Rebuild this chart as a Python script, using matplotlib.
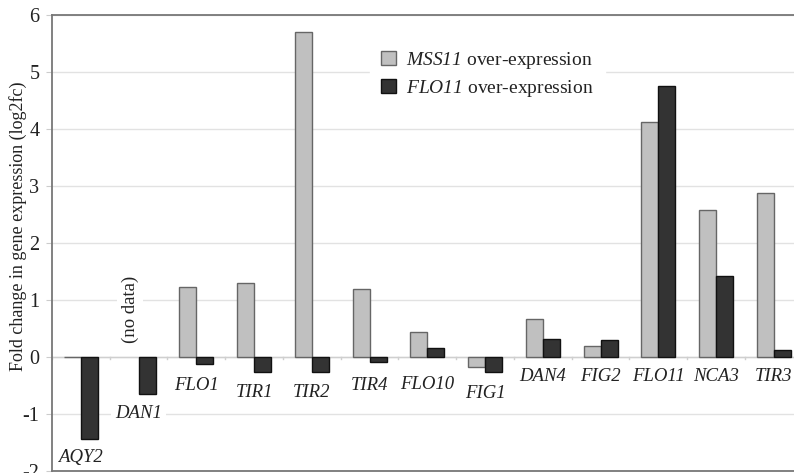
import matplotlib
matplotlib.use("Agg")
import matplotlib.pyplot as plt
import numpy as np
from matplotlib.patches import Patch

genes = ["AQY2", "DAN1", "FLO1", "TIR1", "TIR2", "TIR4", "FLO10",
         "FIG1", "DAN4", "FIG2", "FLO11", "NCA3", "TIR3"]
mss11 = [0.0, np.nan, 1.22, 1.29, 5.70, 1.19, 0.43,
         -0.175, 0.67, 0.18, 4.12, 2.57, 2.87]
flo11 = [-1.44, -0.66, -0.12, -0.26, -0.26, -0.10, 0.16,
         -0.26, 0.31, 0.30, 4.75, 1.41, 0.12]

# where the gene names sit (value axis), they were placed by hand in the original
label_y = [-1.76, -0.99, -0.50, -0.63, -0.63, -0.50, -0.48,
           -0.64, -0.35, -0.35, -0.35, -0.35, -0.35]

plt.rcParams["font.family"] = ["Liberation Serif", "DejaVu Serif"]
plt.rcParams["mathtext.fontset"] = "custom"
plt.rcParams["mathtext.rm"] = "Liberation Serif"
# mathit turns digits upright, so borrow the bf slot for italic gene names
plt.rcParams["mathtext.bf"] = "Liberation Serif:italic"
plt.rcParams["axes.unicode_minus"] = False

txt = "#222222"

fig = plt.figure(figsize=(7.94, 4.73), dpi=100)
ax = fig.add_axes([52 / 794, 2.3 / 473, 742 / 794, 456 / 473])

x = np.arange(len(genes))
w = 0.295
light = "#c0c0c0"
dark = "#333333"

ax.bar(x - w / 2, mss11, w, color=light, edgecolor="#666666", linewidth=1.0, zorder=3)
ax.bar(x + w / 2, flo11, w, color=dark, edgecolor="#111111", linewidth=1.0, zorder=3)

ax.set_xlim(-0.5, 12.35)
ax.set_ylim(-2, 6)
ax.set_yticks(range(-2, 7))
ax.yaxis.grid(True, color="#e2e2e2", linewidth=1.0, zorder=0)
ax.set_axisbelow(True)
ax.set_xticks([])

# category axis at zero with small boundary ticks
ax.axhline(0, color="#cfcfcf", linewidth=1.0, zorder=2)
for b in np.arange(-0.5, len(genes), 1.0):
    ax.plot([b, b], [0, -0.04], color="#cfcfcf", linewidth=1.0, zorder=2)

for xi, g, ly in zip(x, genes, label_y):
    ax.text(xi, ly, g, ha="center", va="center", style="italic", fontsize=13.5,
            color=txt, zorder=4,
            bbox=dict(facecolor="white", edgecolor="none", pad=3))

ax.text(1 - w / 2, 0.83, "(no data)", rotation=90, ha="center", va="center",
        fontsize=13.5, color=txt, zorder=4,
        bbox=dict(facecolor="white", edgecolor="none", pad=3))

for s in ["top", "left", "bottom"]:
    ax.spines[s].set_color("#777777")
    ax.spines[s].set_linewidth(1.3)
ax.spines["right"].set_visible(False)

ax.tick_params(axis="y", length=4, color="#cccccc", labelsize=14.5, labelcolor=txt, pad=5)
fig.text(18 / 794, 1 - 226.5 / 473, "Fold change in gene expression (log2fc)",
         rotation=90, ha="center", va="center", fontsize=13, color=txt)

handles = [Patch(facecolor=light, edgecolor="#666666"),
           Patch(facecolor=dark, edgecolor="#111111")]
leg = ax.legend(handles, ["$\\mathbf{MSS11}$ over-expression", "$\\mathbf{FLO11}$ over-expression"],
                loc="upper left", bbox_to_anchor=(0.415, 0.97), frameon=True,
                fontsize=14, handlelength=0.75, handleheight=0.75, handletextpad=0.5,
                labelspacing=0.35, borderpad=0.6, fancybox=False)
leg.get_frame().set_edgecolor("white")
leg.get_frame().set_facecolor("white")
leg.get_frame().set_alpha(1)
for t in leg.get_texts():
    t.set_color(txt)

fig.savefig("out.png", dpi=100)
